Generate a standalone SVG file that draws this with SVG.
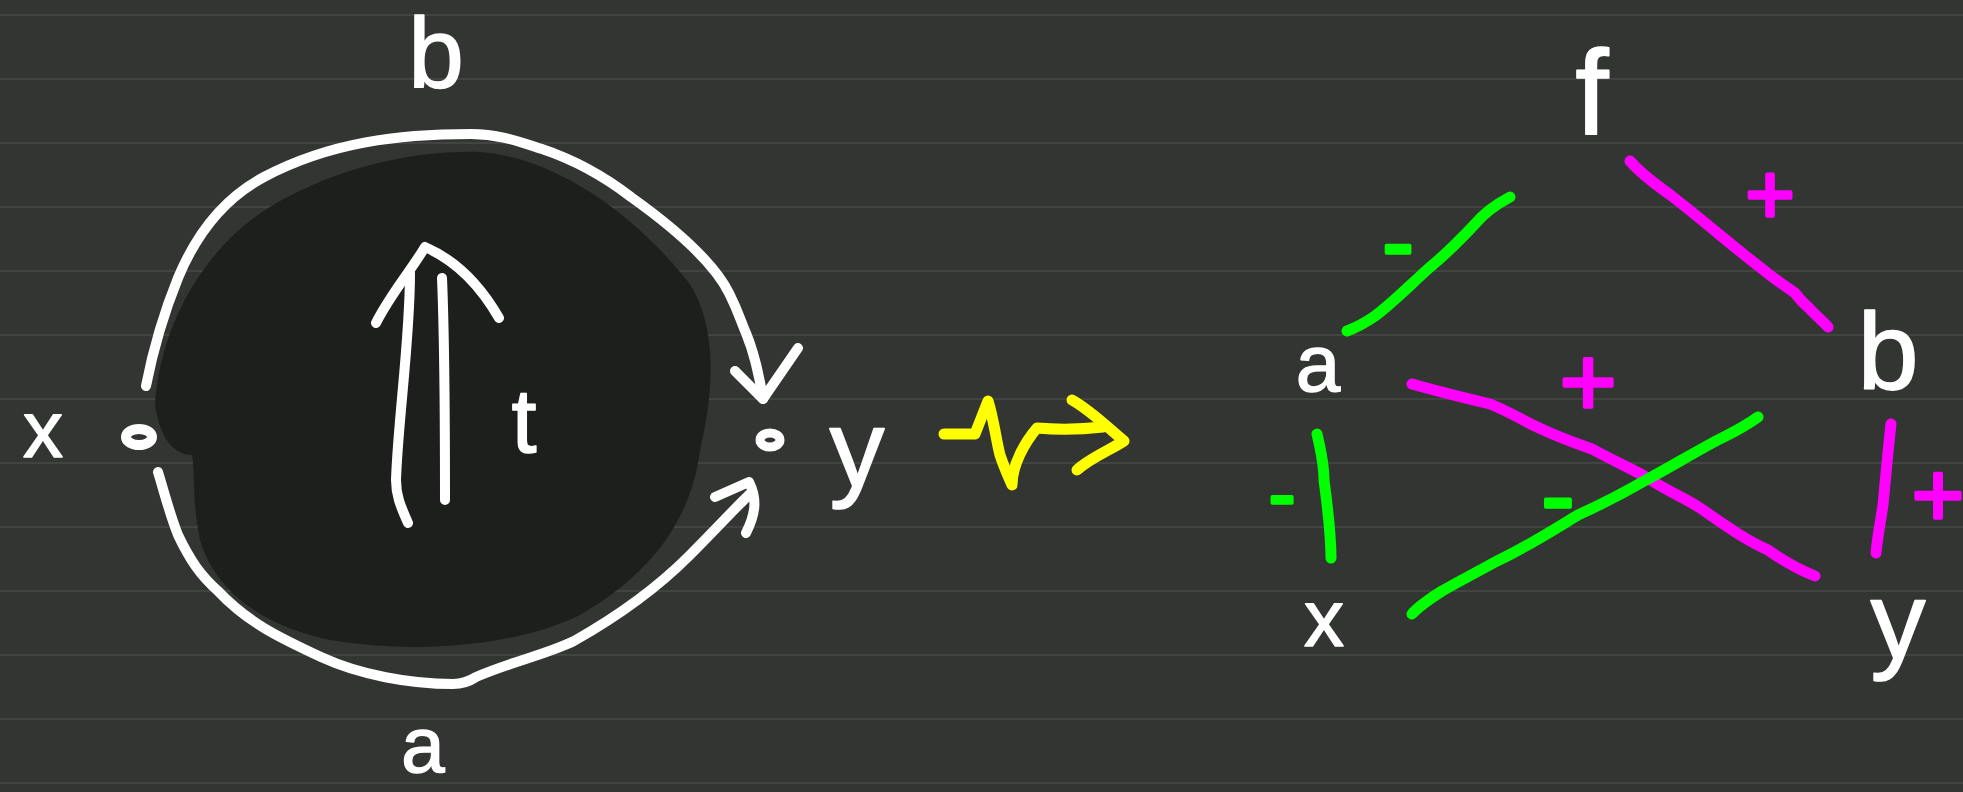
<svg xmlns="http://www.w3.org/2000/svg" width="1963" height="792" viewBox="0 0 1963 792">
<style>
.bgline{stroke:#414441;stroke-width:2}
.w{fill:none;stroke:#ffffff;stroke-width:10;stroke-linecap:round;stroke-linejoin:round}
.g{fill:none;stroke:#00ff00;stroke-width:11;stroke-linecap:round;stroke-linejoin:round}
.m{fill:none;stroke:#ff00ff;stroke-width:11;stroke-linecap:round;stroke-linejoin:round}
.yl{fill:none;stroke:#ffff00;stroke-width:11;stroke-linecap:round;stroke-linejoin:round}
.t{font-family:"Liberation Sans","DejaVu Sans",sans-serif;fill:#ffffff;stroke:#ffffff;stroke-width:1.5;stroke-linejoin:round;text-anchor:middle}
.tg{font-family:"Liberation Sans","DejaVu Sans",sans-serif;fill:#00ff00;stroke:#00ff00;stroke-width:3.5;stroke-linejoin:round;text-anchor:middle;dominant-baseline:central}
.tm{font-family:"Liberation Sans","DejaVu Sans",sans-serif;fill:#ff00ff;stroke:#ff00ff;stroke-width:3.5;stroke-linejoin:round;text-anchor:middle;dominant-baseline:central}
</style>
<rect width="1963" height="792" fill="#323532"/>
<g id="ruling">
<line class="bgline" x1="0" y1="15" x2="1963" y2="15"/>
<line class="bgline" x1="0" y1="79" x2="1963" y2="79"/>
<line class="bgline" x1="0" y1="143" x2="1963" y2="143"/>
<line class="bgline" x1="0" y1="207" x2="1963" y2="207"/>
<line class="bgline" x1="0" y1="271" x2="1963" y2="271"/>
<line class="bgline" x1="0" y1="335" x2="1963" y2="335"/>
<line class="bgline" x1="0" y1="399" x2="1963" y2="399"/>
<line class="bgline" x1="0" y1="463" x2="1963" y2="463"/>
<line class="bgline" x1="0" y1="527" x2="1963" y2="527"/>
<line class="bgline" x1="0" y1="591" x2="1963" y2="591"/>
<line class="bgline" x1="0" y1="655" x2="1963" y2="655"/>
<line class="bgline" x1="0" y1="719" x2="1963" y2="719"/>
<line class="bgline" x1="0" y1="783" x2="1963" y2="783"/>
</g>
<g id="left-diagram">
<path id="blob" d="M155,404 C160,330 200,250 270,207 C340,165 420,150 480,152 C560,158 640,220 689,283 C720,330 712,400 700,450 C690,530 640,580 580,615 C520,645 420,655 330,640 C260,625 215,590 200,540 C192,500 195,470 192,455 C175,455 160,440 155,404 Z" fill="#1d1f1c"/>
<g id="node-x-left"><text class="t" x="43" y="457" font-size="80">x</text><ellipse cx="139" cy="437" rx="13" ry="8" fill="none" stroke="#ffffff" stroke-width="10"/></g>
<g id="node-y-left"><ellipse cx="770" cy="440" rx="10" ry="7" fill="none" stroke="#ffffff" stroke-width="9"/><text class="t" x="857" y="486" font-size="110">y</text></g>
<g id="label-b-left"><text class="t" x="436" y="88" font-size="100">b</text></g>
<g id="label-a-left"><text class="t" x="423" y="772" font-size="78">a</text></g>
<g id="label-t"><text class="t" x="524" y="452" font-size="90">t</text></g>
<g id="left-connectors">
<path class="w" d="M146,386 C155,340 165,310 178,278 C200,225 230,195 264,177 C330,142 400,134 471,134 C500,134 520,142 542,149 C575,160 605,177 631,197 C680,232 715,265 729,293 C740,315 742,325 746,333 C755,355 760,380 763,399"/>
<path class="w" d="M735,371 L763,399 L798,348"/>
<path class="w" d="M158,472 C165,495 170,515 178,535 C190,560 200,575 218,591 C250,625 285,640 321,657 C360,675 410,684 453,684 C462,684 470,681 476,677 C510,662 545,655 574,641 C620,615 660,585 689,556 C715,530 735,508 752,492"/>
<path class="w" d="M715,497 L749,482 C758,500 755,515 746,533"/>
<path class="w" d="M408,523 C400,505 396,495 396,480 C398,420 410,340 410,273"/>
<path class="w" d="M442,278 C445,350 445,430 445,500"/>
<path class="w" d="M376,323 C390,295 410,272 425,247 C455,260 480,285 499,318"/>
</g>
</g>
<g id="transform-arrow">
<path class="yl" d="M944,434 L975,434 L988,401 C994,420 996,440 1000,455 C1005,470 1010,480 1012,485 C1012,465 1025,442 1037,428 C1060,430 1085,429 1103,427"/>
<path class="yl" d="M1072,400 C1090,410 1105,425 1124,441 C1110,450 1090,458 1077,470"/>
</g>
<g id="connectors">
<path class="g" d="M1510,197 C1495,205 1485,212 1475,224 C1460,240 1445,255 1429,268 C1405,290 1390,305 1375,316 C1362,325 1355,328 1347,331"/>
<path class="m" d="M1630,161 C1645,178 1660,187 1673,197 C1705,222 1735,248 1761,268 C1778,282 1787,287 1795,293 C1800,300 1803,303 1809,308 C1815,315 1822,320 1828,327"/>
<path class="g" d="M1317,434 C1322,455 1324,470 1324,480 C1328,510 1331,535 1331,558"/>
<path class="m" d="M1412,384 C1440,392 1465,398 1490,404 C1510,412 1522,420 1537,427 C1560,438 1575,443 1592,449 C1612,460 1630,468 1646,477 C1665,490 1685,498 1700,508 C1725,525 1745,540 1768,550 C1785,562 1800,570 1815,576"/>
<path class="g" d="M1758,417 C1740,430 1725,436 1714,442 C1690,455 1665,470 1646,480 C1620,495 1600,505 1578,515 C1550,532 1525,548 1497,561 C1475,573 1458,582 1442,591 C1428,600 1418,607 1412,614"/>
<path class="m" d="M1891,424 C1887,460 1885,485 1883,505 C1880,525 1877,540 1876,553"/>
<text class="tg" x="1398" y="241" font-size="95">-</text>
<text class="tm" x="1770" y="194" font-size="85">+</text>
<text class="tg" x="1282" y="493" font-size="80">-</text>
<text class="tm" x="1588" y="382" font-size="98">+</text>
<text class="tg" x="1558" y="495" font-size="100">-</text>
<text class="tm" x="1938" y="495" font-size="90">+</text>
</g>
<g id="node-f"><text class="t" x="1592" y="134" font-size="120">f</text></g>
<g id="node-a"><text class="t" x="1318" y="391" font-size="80">a</text></g>
<g id="node-b"><text class="t" x="1888" y="389" font-size="110">b</text></g>
<g id="node-x"><text class="t" x="1324" y="646" font-size="80">x</text></g>
<g id="node-y"><text class="t" x="1898" y="658" font-size="110">y</text></g>
</svg>
